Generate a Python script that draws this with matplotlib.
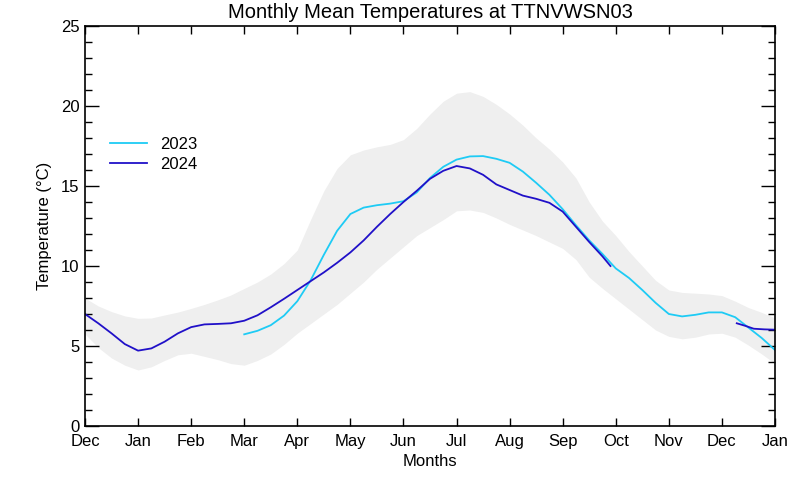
import matplotlib
matplotlib.use("Agg")
import matplotlib.pyplot as plt
from matplotlib.ticker import MultipleLocator

plt.rcParams['font.family'] = ['Liberation Sans', 'DejaVu Sans']

month_labels = ["Dec", "Jan", "Feb", "Mar", "Apr", "May", "Jun", "Jul",
                "Aug", "Sep", "Oct", "Nov", "Dec", "Jan"]

band_x = [0, 0.25, 0.5, 0.75, 1, 1.25, 1.5, 1.75, 2, 2.25, 2.5, 2.75, 3,
          3.25, 3.5, 3.75, 4, 4.25, 4.5, 4.75, 5, 5.25, 5.5, 5.75, 6, 6.25,
          6.5, 6.75, 7, 7.25, 7.5, 7.75, 8, 8.25, 8.5, 8.75, 9, 9.25, 9.5,
          9.75, 10, 10.25, 10.5, 10.75, 11, 11.25, 11.5, 11.75, 12, 12.25,
          12.5, 12.75, 13]
band_upper = [8.0, 7.5, 7.15, 6.88, 6.73, 6.75, 6.94, 7.12, 7.35, 7.6, 7.88,
              8.19, 8.6, 9.0, 9.5, 10.15, 11.0, 12.9, 14.7, 16.1, 16.95,
              17.25, 17.45, 17.6, 17.9, 18.6, 19.5, 20.3, 20.8, 20.9, 20.6,
              20.1, 19.5, 18.8, 18.0, 17.3, 16.5, 15.5, 14.0, 12.8, 11.9,
              10.9, 10.0, 9.1, 8.5, 8.35, 8.3, 8.25, 8.15, 7.8, 7.4, 7.1,
              6.75]
band_lower = [5.75, 4.9, 4.25, 3.8, 3.5, 3.7, 4.1, 4.45, 4.55, 4.35, 4.15,
              3.9, 3.8, 4.1, 4.5, 5.1, 5.8, 6.4, 7.0, 7.6, 8.3, 9.0, 9.8,
              10.5, 11.2, 11.9, 12.4, 12.9, 13.45, 13.5, 13.35, 13.0, 12.6,
              12.25, 11.9, 11.5, 11.1, 10.4, 9.3, 8.6, 7.95, 7.3, 6.65, 6.0,
              5.6, 5.45, 5.55, 5.75, 5.8, 5.55, 5.05, 4.5, 3.9]

x_2023 = [3, 3.25, 3.5, 3.75, 4, 4.25, 4.5, 4.75, 5, 5.25, 5.5, 5.75, 6,
          6.25, 6.5, 6.75, 7, 7.25, 7.5, 7.75, 8, 8.25, 8.5, 8.75, 9, 9.25,
          9.5, 9.75, 10, 10.25, 10.5, 10.75, 11, 11.25, 11.5, 11.75, 12,
          12.25, 12.5, 12.75, 13]
t_2023 = [5.73, 5.95, 6.3, 6.9, 7.8, 9.1, 10.7, 12.2, 13.25, 13.65, 13.8,
          13.9, 14.05, 14.6, 15.5, 16.2, 16.65, 16.85, 16.87, 16.7, 16.45,
          15.9, 15.2, 14.45, 13.55, 12.55, 11.6, 10.75, 9.85, 9.25, 8.5,
          7.7, 7.0, 6.85, 6.95, 7.1, 7.1, 6.8, 6.15, 5.5, 4.75]

x_2024a = [0, 0.25, 0.5, 0.75, 1, 1.25, 1.5, 1.75, 2, 2.25, 2.5, 2.75, 3,
           3.25, 3.5, 3.75, 4, 4.25, 4.5, 4.75, 5, 5.25, 5.5, 5.75, 6, 6.25,
           6.5, 6.75, 7, 7.25, 7.5, 7.75, 8, 8.25, 8.5, 8.75, 9, 9.25, 9.5,
           9.75, 9.9]
t_2024a = [7.0, 6.42, 5.79, 5.12, 4.71, 4.85, 5.27, 5.79, 6.18, 6.35, 6.38,
           6.42, 6.58, 6.92, 7.42, 7.95, 8.5, 9.05, 9.6, 10.2, 10.85, 11.6,
           12.45, 13.25, 14.0, 14.7, 15.45, 15.95, 16.25, 16.1, 15.7, 15.1,
           14.75, 14.4, 14.2, 13.95, 13.4, 12.45, 11.5, 10.6, 10.0]
x_2024b = [12.28, 12.45, 12.6, 12.8, 13]
t_2024b = [6.42, 6.25, 6.08, 6.04, 6.02]

c2023 = "#1ECBF5"
c2024 = "#2010C8"

fig = plt.figure(figsize=(8, 4.8), dpi=100)
ax = fig.add_axes([0.10625, 0.1125, 0.8625, 0.8333])

ax.fill_between(band_x, band_lower, band_upper, color="#EFEFEF", lw=0)
ax.plot(x_2023, t_2023, color=c2023, lw=1.3, label="2023")
ax.plot(x_2024a, t_2024a, color=c2024, lw=1.3, label="2024")
ax.plot(x_2024b, t_2024b, color=c2024, lw=1.3)

ax.set_xlim(0, 13)
ax.set_ylim(0, 25)
ax.set_xticks(range(len(month_labels)))
ax.set_xticklabels(month_labels, fontsize=12)
ax.yaxis.set_major_locator(MultipleLocator(5))
ax.yaxis.set_minor_locator(MultipleLocator(1))
ax.tick_params(axis='y', which='major', direction='in', length=10, width=1,
               left=True, right=True, labelsize=12, pad=4)
ax.tick_params(axis='y', which='minor', direction='in', length=5, width=1,
               left=True, right=True)
ax.tick_params(axis='x', which='major', direction='in', length=5.5, width=1,
               top=True, bottom=True, labelsize=12, pad=6)
for s in ax.spines.values():
    s.set_linewidth(1.2)

ax.set_title("Monthly Mean Temperatures at TTNVWSN03", fontsize=14.5, pad=6)
ax.set_xlabel("Months", fontsize=12, labelpad=3)
ax.set_ylabel("Temperature (°C)", fontsize=12, labelpad=6)

leg = ax.legend(loc="upper left", bbox_to_anchor=(0.015, 0.76), frameon=False,
                fontsize=12, handlelength=2.2, handletextpad=0.8,
                labelspacing=0.3)

fig.savefig("out.png", dpi=100)
